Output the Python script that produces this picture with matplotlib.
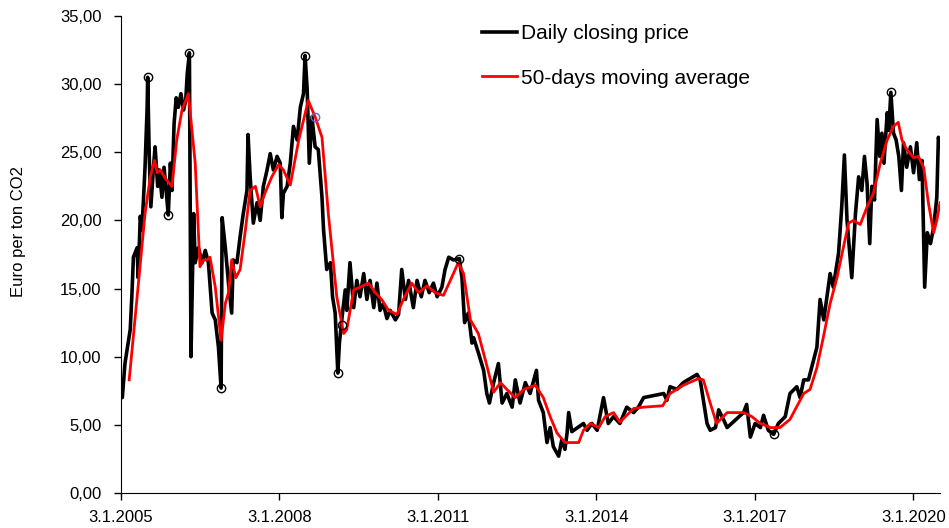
import matplotlib
matplotlib.use("Agg")
import matplotlib.pyplot as plt

plt.rcParams['font.family'] = ['Liberation Sans', 'DejaVu Sans']

# daily closing price, decimal year / euro per ton
price_t = [2005.01, 2005.03, 2005.08, 2005.18, 2005.21, 2005.24, 2005.31, 2005.33, 2005.37, 2005.40,
           2005.43, 2005.46, 2005.50, 2005.51, 2005.54, 2005.57, 2005.62, 2005.65, 2005.70, 2005.73,
           2005.78, 2005.82, 2005.86, 2005.90, 2005.94, 2005.97, 2006.01, 2006.05, 2006.09, 2006.14,
           2006.19, 2006.23, 2006.26, 2006.30, 2006.33,
           2006.38, 2006.41, 2006.47, 2006.54, 2006.60, 2006.66, 2006.73, 2006.79, 2006.85, 2006.90,
           2006.92, 2006.98, 2007.04, 2007.10, 2007.13, 2007.20, 2007.26, 2007.32, 2007.39, 2007.41,
           2007.45, 2007.51, 2007.58, 2007.64, 2007.70, 2007.77, 2007.83, 2007.89, 2007.96, 2008.02,
           2008.05, 2008.08, 2008.15, 2008.21, 2008.27, 2008.34, 2008.40, 2008.46, 2008.49, 2008.53,
           2008.57, 2008.62, 2008.68, 2008.74, 2008.81, 2008.84, 2008.90, 2008.97, 2009.01, 2009.06,
           2009.11, 2009.14, 2009.19, 2009.25, 2009.28, 2009.34, 2009.41, 2009.47, 2009.53, 2009.60,
           2009.66, 2009.72, 2009.79, 2009.85, 2009.91, 2009.97, 2010.04, 2010.10, 2010.20, 2010.26,
           2010.32, 2010.39, 2010.45, 2010.54, 2010.61, 2010.69, 2010.76, 2010.84, 2010.92, 2010.99,
           2011.08, 2011.14, 2011.21, 2011.30, 2011.41, 2011.46, 2011.51, 2011.58, 2011.65,
           2011.68, 2011.77, 2011.87, 2011.93, 2011.98, 2012.06, 2012.15, 2012.22, 2012.31, 2012.41,
           2012.47, 2012.56, 2012.66, 2012.75, 2012.82, 2012.87, 2012.91, 2013.00, 2013.07, 2013.13,
           2013.19, 2013.29, 2013.35, 2013.41, 2013.45, 2013.48, 2013.54, 2013.76, 2013.83, 2013.92,
           2014.02, 2014.14, 2014.23, 2014.33, 2014.45, 2014.58, 2014.71, 2014.80, 2014.90, 2015.28,
           2015.34, 2015.40, 2015.53, 2015.65, 2015.78, 2015.91, 2015.97, 2016.03, 2016.10, 2016.16,
           2016.26, 2016.32, 2016.41, 2016.48, 2016.79, 2016.85, 2016.92, 2017.01, 2017.11, 2017.17,
           2017.26, 2017.36, 2017.45, 2017.58, 2017.67, 2017.80, 2017.86, 2017.93, 2018.02, 2018.12,
           2018.18, 2018.24, 2018.31, 2018.43, 2018.49, 2018.59, 2018.65, 2018.70, 2018.75, 2018.78,
           2018.84, 2018.91, 2018.97, 2019.03, 2019.08, 2019.13, 2019.18, 2019.22, 2019.27, 2019.32,
           2019.37, 2019.41, 2019.45, 2019.51, 2019.54, 2019.58, 2019.63, 2019.68, 2019.73, 2019.78,
           2019.82, 2019.88, 2019.95, 2020.01, 2020.07, 2020.12, 2020.17, 2020.22, 2020.27, 2020.33,
           2020.39, 2020.45, 2020.48, 2020.51]
price = [7.3, 7.0, 9.5, 12.0, 14.4, 17.3, 18.0, 15.8, 20.3, 19.3,
         21.5, 23.9, 28.3, 30.5, 24.7, 21.0, 23.9, 25.4, 22.5, 23.7,
         21.7, 23.9, 22.2, 20.4, 24.2, 22.2, 27.1, 29.0, 28.3, 29.3,
         28.1, 28.8, 30.8, 32.3, 10.0,
         20.5, 16.9, 18.0, 16.9, 17.8, 16.9, 13.2, 12.7, 10.7, 7.7,
         20.2, 18.0, 15.4, 13.2, 17.1, 16.9, 18.8, 20.5, 22.2, 26.3,
         23.2, 19.8, 21.3, 20.0, 22.5, 23.7, 24.9, 23.7, 24.7, 24.2,
         20.2, 22.0, 22.5, 24.2, 26.9, 25.9, 28.3, 29.3, 32.1, 29.6,
         24.2, 27.6, 25.4, 25.2, 21.7, 19.3, 16.4, 16.9, 14.4, 13.2,
         8.8, 11.0, 12.9, 14.9, 13.4, 16.9, 13.6, 15.6, 14.4, 16.1,
         14.2, 15.6, 13.6, 15.4, 13.4, 13.9, 12.8, 13.4, 12.7, 13.1,
         16.4, 14.2, 15.6, 13.6, 15.6, 14.4, 15.6, 14.7, 15.4, 14.4,
         15.1, 16.4, 17.3, 17.1, 17.2, 15.8, 12.5, 13.2, 11.0,
         11.4, 10.3, 9.0, 7.3, 6.6, 8.1, 9.5, 6.6, 7.3, 6.3,
         8.3, 6.6, 8.1, 7.3, 8.3, 9.0, 6.8, 5.9, 3.7, 4.8,
         3.4, 2.7, 3.9, 3.2, 4.4, 5.9, 4.5, 5.1, 4.6, 5.1,
         4.6, 7.0, 5.1, 5.6, 5.1, 6.3, 5.9, 6.3, 7.0, 7.3,
         6.8, 7.8, 7.6, 8.1, 8.4, 8.7, 8.3, 6.8, 5.1, 4.6,
         4.8, 6.1, 5.4, 4.8, 5.9, 6.5, 4.1, 5.1, 4.8, 5.7,
         4.6, 4.3, 5.1, 5.6, 7.3, 7.8, 7.0, 8.3, 8.3, 9.8,
         10.7, 14.2, 12.7, 16.1, 15.1, 17.6, 21.0, 24.8, 20.0, 18.6,
         15.8, 20.5, 23.2, 22.2, 24.7, 22.7, 18.3, 22.5, 21.5, 27.4,
         24.7, 26.4, 24.2, 27.9, 26.6, 29.4, 26.4, 25.9, 24.7, 22.2,
         25.7, 23.9, 25.4, 23.5, 25.7, 23.0, 24.4, 15.1, 19.1, 18.3,
         19.5, 21.7, 26.1, 25.4]

# 50-days moving average
ma_t = [2005.16, 2005.34, 2005.46, 2005.56, 2005.64, 2005.69, 2005.75, 2005.84, 2005.97, 2006.06,
        2006.16, 2006.28, 2006.41, 2006.50, 2006.57, 2006.63, 2006.69, 2006.79, 2006.90, 2006.98,
        2007.04, 2007.10, 2007.18, 2007.26, 2007.36, 2007.45, 2007.55, 2007.64, 2007.73, 2007.86,
        2007.99, 2008.08, 2008.21, 2008.37, 2008.55, 2008.68, 2008.81, 2008.93, 2009.09, 2009.22,
        2009.28, 2009.41, 2009.53, 2009.69, 2009.82, 2009.94, 2010.07, 2010.23, 2010.35, 2010.51,
        2010.64, 2010.80, 2010.95, 2011.11, 2011.24, 2011.39, 2011.49, 2011.62, 2011.77, 2011.90,
        2012.06, 2012.19, 2012.31, 2012.47, 2012.63, 2012.85, 2013.00, 2013.13, 2013.26, 2013.41,
        2013.67, 2013.76, 2013.89, 2014.05, 2014.17, 2014.33, 2014.45, 2014.71, 2014.90, 2015.26,
        2015.40, 2015.65, 2015.94, 2016.03, 2016.16, 2016.28, 2016.48, 2016.79, 2016.95, 2017.11,
        2017.30, 2017.48, 2017.67, 2017.93, 2018.05, 2018.18, 2018.30, 2018.43, 2018.56, 2018.68,
        2018.78, 2018.87, 2019.00, 2019.13, 2019.25, 2019.38, 2019.51, 2019.63, 2019.72, 2019.79,
        2019.88, 2020.01, 2020.10, 2020.20, 2020.29, 2020.39, 2020.45, 2020.51]
ma = [8.3, 15.6, 20.5, 23.2, 24.4, 23.5, 23.7, 23.1, 22.5, 25.9,
      28.1, 29.3, 24.2, 16.6, 17.1, 17.1, 17.3, 15.1, 11.2, 13.9,
      14.7, 17.1, 15.8, 16.4, 19.3, 22.2, 22.5, 21.0, 22.0, 23.2,
      24.1, 23.7, 22.6, 25.9, 28.8, 27.6, 26.1, 20.5, 14.4, 11.7,
      12.0, 14.9, 15.1, 15.4, 14.7, 14.2, 13.4, 13.1, 14.2, 15.4,
      14.7, 15.2, 14.7, 14.5, 15.6, 16.9, 16.1, 12.7, 11.7, 9.8,
      7.4, 8.1, 7.6, 7.0, 7.6, 7.9, 7.0, 5.6, 4.4, 3.7,
      3.7, 4.6, 5.1, 4.8, 5.6, 5.9, 5.2, 6.2, 6.3, 6.4,
      7.3, 7.9, 8.4, 8.3, 6.6, 5.1, 5.9, 5.9, 5.6, 5.1,
      4.8, 4.8, 5.4, 7.3, 7.6, 9.2, 11.4, 13.9, 15.8, 18.0,
      19.8, 20.0, 19.7, 21.0, 22.0, 24.2, 25.9, 26.9, 27.2, 25.9,
      25.2, 24.6, 24.7, 23.9, 21.3, 19.1, 20.0, 21.3]

# marked extremes
mark_t = [2005.51, 2005.90, 2006.30, 2006.90, 2008.49, 2009.11, 2009.18, 2011.41, 2017.36, 2019.58]
mark_v = [30.5, 20.4, 32.3, 7.7, 32.1, 8.8, 12.3, 17.2, 4.3, 29.4]
blue_t = [2008.68]
blue_v = [27.6]

tick_years = [2005, 2008, 2011, 2014, 2017, 2020]
tick_labels = ['3.1.%d' % y for y in tick_years]
y_ticks = [0, 5, 10, 15, 20, 25, 30, 35]

fig = plt.figure(figsize=(9.49, 5.28), dpi=100)
ax = fig.add_axes([0.1275, 0.0663, 0.863, 0.9034])

ax.plot(price_t, price, color='black', lw=2.6, label='Daily closing price', zorder=2)
ax.plot(ma_t, ma, color='#ff0000', lw=2.0, label='50-days moving average', zorder=3)
ax.plot(mark_t, mark_v, 'o', mfc='none', mec='black', ms=6, mew=1.0, zorder=4)
ax.plot(blue_t, blue_v, 'o', mfc='none', mec='#4472c4', ms=6, mew=1.0, zorder=4)

ax.set_xlim(2005.005, 2020.51)
ax.set_ylim(0, 35)
ax.set_xticks([y + 2 / 365 for y in tick_years])
ax.set_xticklabels(tick_labels, fontsize=12)
ax.set_yticks(y_ticks)
ax.set_yticklabels(['%d,00' % v for v in y_ticks], fontsize=12)
ax.tick_params(direction='out', length=5, width=1)
ax.tick_params(axis='y', pad=9)
ax.tick_params(axis='x', pad=7)
ax.spines['top'].set_visible(False)
ax.spines['right'].set_visible(False)
fig.text(0.0195, 0.561, 'Euro per ton CO2', rotation=90, ha='center', va='center', fontsize=12)

ax.legend(loc='upper left', bbox_to_anchor=(0.441, 0.983), frameon=False, fontsize=15,
          handlelength=1.65, handletextpad=0.2, labelspacing=1.23, borderpad=0, borderaxespad=0)

fig.savefig('out.png', dpi=100)
